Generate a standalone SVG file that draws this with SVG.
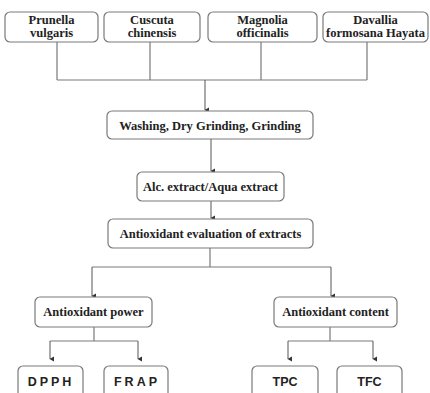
<svg xmlns="http://www.w3.org/2000/svg" width="430" height="393" viewBox="0 0 430 393">
<defs>
<marker id="ah" markerWidth="6" markerHeight="6" refX="3" refY="5" orient="auto" markerUnits="userSpaceOnUse" viewBox="0 0 6 6">
<path d="M0.5,1 L5.5,1 L3,5.5 Z" fill="#333"/>
</marker>
<style>
.box{fill:#fff;stroke:#7a7a7a;stroke-width:1.2}
.t{font-family:"Liberation Serif","Times New Roman",serif;font-weight:bold;font-size:12.5px;fill:#222;text-anchor:middle}
.s{font-family:"Liberation Sans",Arial,sans-serif;font-weight:bold;font-size:12.5px;fill:#222;text-anchor:middle}
.ln{fill:none;stroke:#7a7a7a;stroke-width:1.2}
.ar{fill:none;stroke:#555;stroke-width:1;marker-end:url(#ah)}
</style>
</defs>
<rect width="430" height="393" fill="#fff"/>
<g id="connectors">
<path class="ln" d="M57,42 V80 M150,42 V80 M261,42 V80 M367,42 V80 M57,80 H367"/>
<path class="ar" d="M205,80 V110"/>
<path class="ar" d="M211,139 V171"/>
<path class="ar" d="M211,201 V218"/>
<path class="ln" d="M210,248 V267 M92,267 H331"/>
<path class="ar" d="M92,267 V296"/>
<path class="ar" d="M331,267 V296"/>
<path class="ln" d="M94,327 V341 M50,341 H138 M330,327 V341 M288,341 H373"/>
<path class="ar" d="M50,341 V359"/>
<path class="ar" d="M138,341 V359"/>
<path class="ar" d="M288,341 V359"/>
<path class="ar" d="M373,341 V359"/>
</g>
<g id="n1"><rect class="box" x="5" y="12" width="93" height="30" rx="5"/><text class="t" x="51.5" y="24">Prunella</text><text class="t" x="51.5" y="37">vulgaris</text></g>
<g id="n2"><rect class="box" x="104" y="12" width="96" height="30" rx="5"/><text class="t" x="152" y="24">Cuscuta</text><text class="t" x="152" y="37">chinensis</text></g>
<g id="n3"><rect class="box" x="208" y="12" width="109" height="30" rx="5"/><text class="t" x="262.5" y="24">Magnolia</text><text class="t" x="262.5" y="37">officinalis</text></g>
<g id="n4"><rect class="box" x="323" y="12" width="105" height="30" rx="5"/><text class="t" x="375.5" y="24">Davallia</text><text class="t" x="375.5" y="37">formosana Hayata</text></g>
<g id="n5"><rect class="box" x="107" y="111" width="206" height="28" rx="5"/><text class="t" x="210" y="129.5">Washing, Dry Grinding, Grinding</text></g>
<g id="n6"><rect class="box" x="137" y="172" width="147" height="29" rx="5"/><text class="t" x="210.5" y="191">Alc. extract/Aqua extract</text></g>
<g id="n7"><rect class="box" x="108" y="219" width="205" height="29" rx="5"/><text class="t" x="210.5" y="238">Antioxidant evaluation of extracts</text></g>
<g id="n8"><rect class="box" x="35" y="297" width="117" height="30" rx="5"/><text class="t" x="93.5" y="316">Antioxidant power</text></g>
<g id="n9"><rect class="box" x="274" y="297" width="123" height="30" rx="5"/><text class="t" x="335.5" y="316">Antioxidant content</text></g>
<g id="n10"><rect class="box" x="18" y="366" width="65" height="40" rx="5"/><text class="s" x="51" y="385.5" letter-spacing="3">DPPH</text></g>
<g id="n11"><rect class="box" x="104" y="366" width="64" height="40" rx="5"/><text class="s" x="137" y="385.5" letter-spacing="3">FRAP</text></g>
<g id="n12"><rect class="box" x="252" y="366" width="66" height="40" rx="5"/><text class="s" x="285" y="385.5">TPC</text></g>
<g id="n13"><rect class="box" x="337" y="366" width="65" height="40" rx="5"/><text class="s" x="369.5" y="385.5">TFC</text></g>
</svg>
